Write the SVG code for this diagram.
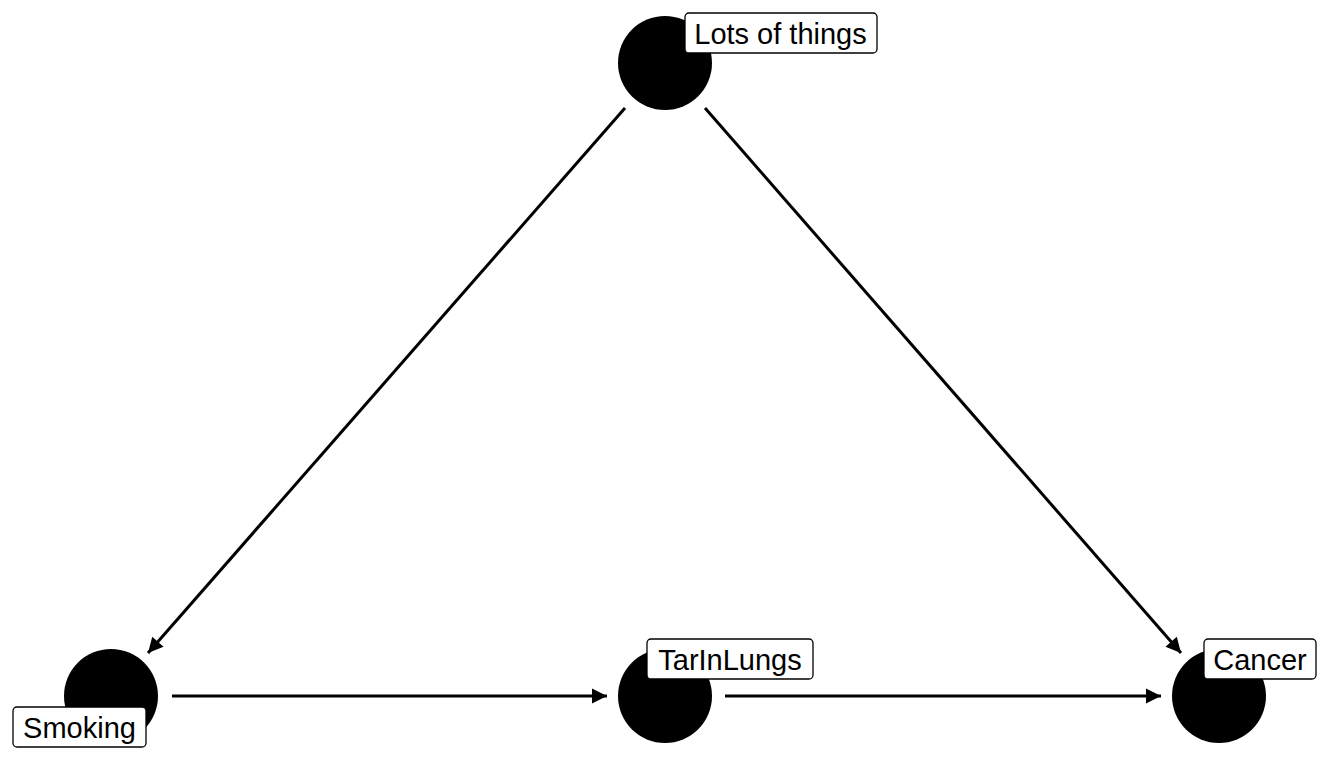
<svg xmlns="http://www.w3.org/2000/svg" width="1330" height="760" viewBox="0 0 1330 760">
  <defs>
    <marker id="arrow" markerUnits="userSpaceOnUse" markerWidth="18" markerHeight="18" viewBox="0 0 18 18" refX="16" refY="8" orient="auto">
      <path d="M1,0.5 L16,8 L1,15.5 z" fill="#000"/>
    </marker>
    <style>
      .node circle { fill: #000; }
      .label rect { fill: #fff; stroke: #000; stroke-width: 1.3; }
      .label text { font-family: "Liberation Sans", Arial, sans-serif; font-size: 29px; fill: #000; text-anchor: middle; }
      .edge { stroke: #000; stroke-width: 3; fill: none; marker-end: url(#arrow); }
    </style>
  </defs>
  <rect width="1330" height="760" fill="#fff"/>
  <g id="connectors">
    <line class="edge" x1="625" y1="108" x2="148" y2="653"/>
    <line class="edge" x1="705" y1="108" x2="1181" y2="653"/>
    <line class="edge" x1="172" y1="696" x2="607" y2="696"/>
    <line class="edge" x1="725" y1="696" x2="1161" y2="696"/>
  </g>
  <g id="node-lots" class="node">
    <circle cx="665" cy="63" r="47"/>
    <g class="label">
      <rect x="685" y="13" width="192" height="40" rx="4"/>
      <text x="780.5" y="43.5">Lots of things</text>
    </g>
  </g>
  <g id="node-smoking" class="node">
    <circle cx="111" cy="696" r="47"/>
    <g class="label">
      <rect x="13" y="707" width="133" height="40" rx="4"/>
      <text x="79.5" y="738">Smoking</text>
    </g>
  </g>
  <g id="node-tar" class="node">
    <circle cx="665" cy="696" r="47"/>
    <g class="label">
      <rect x="647" y="639" width="166" height="40" rx="4"/>
      <text x="730" y="670">TarInLungs</text>
    </g>
  </g>
  <g id="node-cancer" class="node">
    <circle cx="1219" cy="696" r="47"/>
    <g class="label">
      <rect x="1204" y="639" width="112" height="40" rx="4"/>
      <text x="1260" y="670">Cancer</text>
    </g>
  </g>
</svg>
